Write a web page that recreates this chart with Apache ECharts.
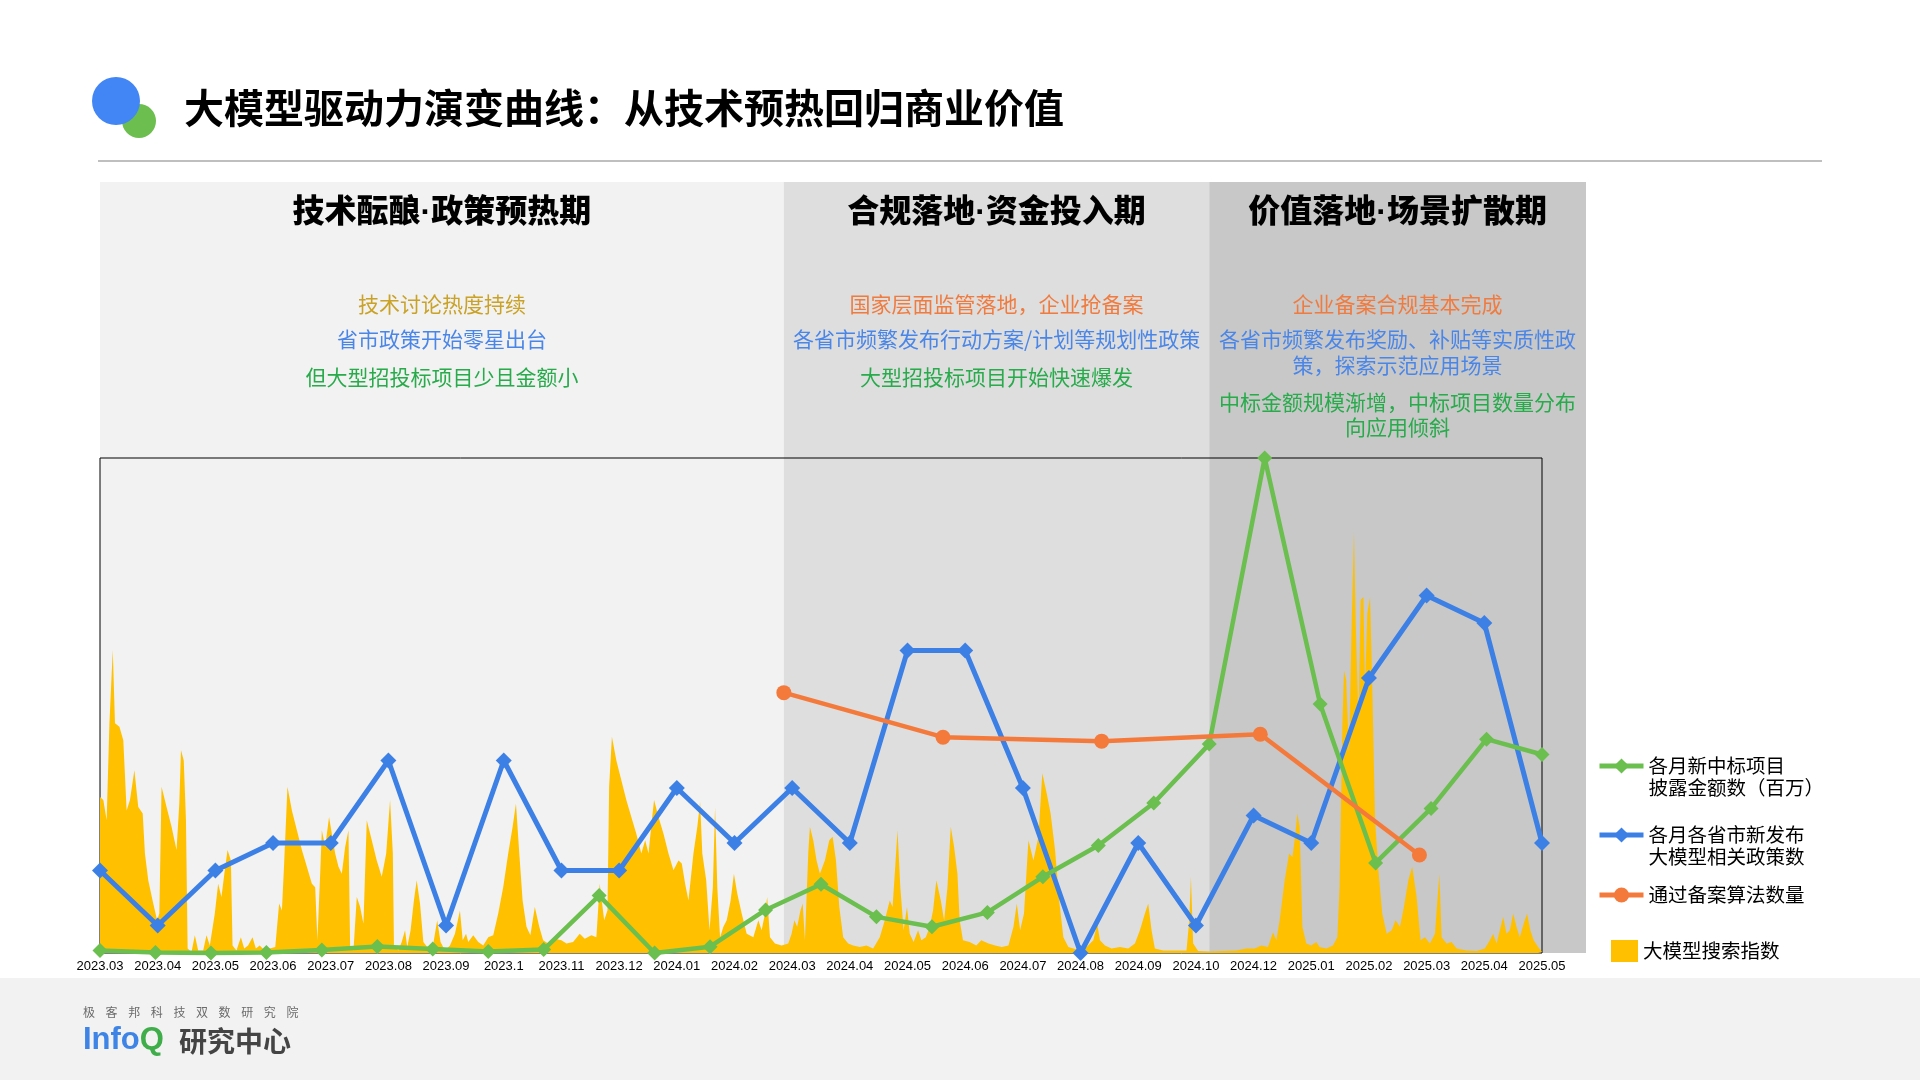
<!DOCTYPE html>
<html>
<head>
<meta charset="utf-8">
<script src="https://cdn.jsdelivr.net/npm/echarts@6/dist/echarts.min.js"></script>
<style>
html,body{margin:0;padding:0;background:#ffffff;}
#c{width:1920px;height:1080px;}
</style>
</head>
<body>
<div id="c"></div>
<script>
// ---------------- DATA ----------------
const categories = ['2023.03','2023.04','2023.05','2023.06','2023.07','2023.08','2023.09','2023.1','2023.11','2023.12',
  '2024.01','2024.02','2024.03','2024.04','2024.05','2024.06','2024.07','2024.08','2024.09','2024.10','2024.12',
  '2025.01','2025.02','2025.03','2025.04','2025.05'];

// 各月各省市新发布大模型相关政策数 (one per category label)
const policyCounts = [3,1,3,4,4,7,1,7,3,3,6,4,6,4,11,11,6,0,4,1,5,4,10,13,12,4];

// 各月新中标项目披露金额数（百万） — 27 months, 2023.03 … 2025.05 (month index 0…26)
const bidAmounts = [15,3,0,3,18,39,24,9,21,348,0,38,261,417,219,159,246,462,651,909,1266,3000,1509,546,876,1296,1203];

// 通过备案算法数量 — batch release positions (month index) and counts
const filingPos = [12.33,15.2,18.06,20.92,23.79];
const filingCounts = [263,218,214,221,99];

// 大模型搜索指数 — sample positions (month index) and index values
const searchPos = [0.00,0.06,0.12,0.17,0.23,0.27,0.35,0.42,0.48,0.54,0.62,0.69,0.77,0.81,0.87,0.96,1.03,1.07,1.11,1.20,1.29,1.38,1.43,1.46,1.51,1.55,1.58,1.65,1.71,1.77,1.86,1.92,1.98,2.07,2.13,2.19,2.25,2.30,2.36,2.39,2.46,2.54,2.60,2.67,2.75,2.81,2.88,2.97,3.06,3.16,3.23,3.28,3.32,3.38,3.46,3.55,3.64,3.73,3.82,3.88,3.92,3.97,4.00,4.06,4.13,4.18,4.24,4.30,4.36,4.42,4.48,4.51,4.57,4.63,4.69,4.75,4.81,4.90,4.99,5.08,5.16,5.23,5.28,5.30,5.38,5.44,5.50,5.54,5.60,5.66,5.71,5.77,5.83,5.92,6.01,6.08,6.14,6.22,6.31,6.40,
  6.49,6.54,6.60,6.64,6.73,6.82,6.91,7.00,7.09,7.18,7.27,7.36,7.44,7.50,7.56,7.62,7.69,7.76,7.84,7.92,7.99,8.08,8.20,8.32,8.41,8.53,8.65,8.74,8.86,8.95,9.01,9.09,9.15,9.18,9.23,9.31,9.40,9.49,9.58,9.67,9.76,9.83,9.89,9.95,9.99,10.07,10.16,10.25,10.34,10.43,10.49,10.55,10.61,10.70,10.77,10.82,10.86,10.93,10.99,11.05,11.09,11.13,11.18,11.24,11.30,11.37,11.43,11.49,11.57,11.66,11.78,11.87,11.93,11.99,12.03,12.08,12.17,12.29,12.41,12.47,12.52,12.57,12.63,12.67,12.71,12.77,12.80,12.86,12.92,
  12.98,13.07,13.15,13.21,13.27,13.33,13.40,13.49,13.58,13.70,13.82,13.94,14.06,14.15,14.24,14.29,14.33,14.38,14.43,14.49,14.55,14.60,14.67,14.75,14.81,14.89,14.96,15.02,15.08,15.16,15.22,15.28,15.34,15.40,15.46,15.50,15.56,15.68,15.80,15.89,16.02,16.14,16.26,16.38,16.47,16.53,16.59,16.66,16.74,16.83,16.92,16.99,17.07,17.14,17.22,17.30,17.37,17.46,17.55,17.67,17.79,17.91,17.98,18.03,18.12,18.24,18.39,18.54,18.66,18.75,18.84,18.90,18.96,19.02,19.17,19.32,
  19.47,19.59,19.64,19.67,19.71,19.80,20.01,20.25,20.49,20.67,20.82,20.94,21.06,21.15,21.21,21.27,21.36,21.44,21.50,21.54,21.59,21.63,21.68,21.75,21.84,21.93,21.99,22.11,22.23,22.31,22.35,22.40,22.43,22.47,22.52,22.57,22.61,22.64,22.69,22.73,22.78,22.81,22.85,22.90,22.94,22.99,23.05,23.12,23.20,23.29,23.36,23.44,23.51,23.59,23.66,23.74,23.81,23.89,23.98,24.07,24.11,24.15,24.19,24.28,24.37,24.46,24.64,24.82,24.97,25.06,25.12,25.18,25.24,25.30,25.36,25.42,25.48,25.54,25.60,25.67,25.73,25.79,25.85,25.93,26.00];
const searchIdx = [31.5,30.9,26.8,46.4,61.2,46.4,45.7,43.0,28.8,30.9,36.9,29.5,28.2,20.1,14.7,10.0,6.6,8.0,33.6,29.5,25.5,20.8,30.2,41.0,38.9,26.8,0.9,0.2,3.6,0.5,0.5,3.6,1.5,8.0,14.0,11.3,16.7,20.8,18.7,1.5,0.5,3.2,0.9,1.5,3.2,0.9,1.5,0.5,0.9,1.2,10.0,8.6,18.1,33.6,28.8,24.8,20.8,17.4,14.0,13.3,2.6,16.0,24.8,21.4,27.5,24.1,20.1,17.4,16.0,21.4,24.8,1.2,0.5,11.3,9.3,5.9,26.8,22.8,18.7,15.4,20.1,30.9,20.1,1.5,0.5,2.2,4.6,1.2,4.6,10.6,14.7,10.0,2.2,0.9,1.9,6.6,2.2,0.5,1.5,3.9,
  8.6,2.6,3.9,2.2,3.6,2.2,1.5,3.2,3.6,8.0,13.3,20.1,25.5,30.2,20.1,10.6,5.3,3.6,9.3,5.3,2.6,1.9,2.9,2.6,1.9,2.2,3.9,2.9,3.6,3.2,14.0,6.6,8.6,33.6,43.7,38.9,34.9,30.9,27.5,24.1,20.1,22.8,20.1,26.8,30.9,27.5,24.1,20.1,16.7,18.7,18.1,14.0,10.6,20.1,25.5,30.5,20.1,14.7,4.6,13.3,29.5,13.3,3.2,5.3,6.6,10.6,16.0,12.0,8.0,3.9,3.2,6.6,4.6,8.0,11.3,3.2,1.9,1.5,1.9,3.9,6.6,5.3,8.6,10.0,2.6,20.1,25.5,22.8,18.7,
  16.0,18.7,22.8,23.5,18.7,9.3,3.2,1.9,1.5,1.2,1.5,0.9,3.2,6.6,10.6,9.3,16.0,24.8,13.3,4.6,9.3,3.9,2.2,4.6,2.6,3.2,5.3,8.6,14.7,10.6,6.6,13.3,25.5,21.4,16.0,6.6,2.6,2.2,1.5,2.6,1.9,1.5,1.2,1.5,5.3,10.0,4.6,8.0,22.8,18.7,23.5,36.3,32.2,28.2,20.8,10.0,3.2,1.2,0.9,0.5,1.2,2.6,5.9,2.6,1.5,0.9,1.2,0.9,1.9,4.6,8.0,10.0,4.6,0.9,0.5,0.5,
  0.5,0.5,6.6,15.4,1.9,0.4,0.3,0.4,0.5,0.9,0.9,1.5,1.2,4.2,2.6,6.6,14.7,20.1,19.4,22.8,28.2,25.5,5.3,1.9,1.5,2.2,1.2,0.9,1.5,3.2,13.3,45.7,57.1,55.1,40.3,67.3,85.0,67.3,47.0,71.3,71.9,53.8,68.6,71.9,53.8,26.8,16.7,8.0,3.9,4.6,6.6,5.3,9.3,14.7,17.4,11.3,2.6,3.2,1.9,3.9,10.0,16.0,3.2,1.9,2.2,0.9,0.5,0.4,0.9,2.6,3.9,1.9,4.6,7.3,3.9,4.6,8.0,5.3,3.2,5.9,8.0,4.6,2.6,1.2,0.2];

// phase boundaries in month index (start of phase 1, 2, 3)
const phaseStart = [0, 12.33, 20.0];
const phaseTitles = ['技术酝酿·政策预热期','合规落地·资金投入期','价值落地·场景扩散期'];

// ---------------- NAMES / STYLE ----------------
const NAME_BID = '各月新中标项目披露金额数（百万）';
const NAME_POLICY = '各月各省市新发布大模型相关政策数';
const NAME_FILING = '通过备案算法数量';
const NAME_SEARCH = '大模型搜索指数';
const legendText = {};
legendText[NAME_BID] = '\n各月新中标项目\n披露金额数（百万）';
legendText[NAME_POLICY] = '\n各月各省市新发布\n大模型相关政策数';
legendText[NAME_FILING] = NAME_FILING;
legendText[NAME_SEARCH] = NAME_SEARCH;

const CJK = '"Noto Sans CJK SC", "Noto Sans", sans-serif';
const LAT_CJK = '"Liberation Sans", "Noto Sans CJK SC", sans-serif';
const C_GREEN = '#6bbf4e', C_BLUE = '#3c80e6', C_ORANGE = '#f47a3c', C_YELLOW = '#ffc000';
const T_GOLD = '#c9a227', T_BLUE = '#4a86e8', T_GREEN = '#27ab4b', T_ORANGE = '#f07b3f';

const chart = echarts.init(document.getElementById('c'), null, {renderer: 'canvas', width: 1920, height: 1080});

function legendItem(name, left, top, w, h, icon) {
  const l = {
    data: [name], left: left, top: top, orient: 'vertical', padding: 0,
    itemWidth: w, itemHeight: h, itemGap: 0, selectedMode: false,
    lineStyle: {width: 5},
    textStyle: {fontSize: 19.5, lineHeight: 22, color: '#000', fontFamily: CJK},
    formatter: (n) => legendText[n]
  };
  if (icon) l.icon = icon;
  return l;
}

const option = {
  animation: false,
  backgroundColor: '#ffffff',
  grid: {left: 100, top: 458, right: 378, bottom: 127, show: true, borderColor: '#000', borderWidth: 1, backgroundColor: 'transparent', z: 1},
  xAxis: [
    {type: 'category', data: categories, boundaryGap: false,
     axisLine: {show: false}, axisTick: {show: false}, splitLine: {show: false},
     axisLabel: {interval: 0, margin: 7, fontSize: 13, color: '#000', fontFamily: '"Liberation Sans", Arial, sans-serif'}},
    {type: 'value', min: 0, max: 26, show: false}
  ],
  yAxis: [
    {type: 'value', min: 0, max: 18, show: false},
    {type: 'value', min: 0, max: 3000, show: false},
    {type: 'value', min: 0, max: 500, show: false},
    {type: 'value', min: 0, max: 100, show: false}
  ],
  legend: [
    legendItem(NAME_BID, 1597, 733, 44, 19),
    legendItem(NAME_POLICY, 1597, 802, 44, 19),
    legendItem(NAME_FILING, 1597, 884, 44, 19),
    legendItem(NAME_SEARCH, 1611, 940, 27, 22, 'rect')
  ],
  series: [
    {name: NAME_SEARCH, type: 'line', xAxisIndex: 1, yAxisIndex: 3, z: 1,
     data: searchPos.map((p, i) => [p, searchIdx[i]]),
     symbol: 'none', smooth: false, clip: false,
     lineStyle: {width: 0, color: C_YELLOW}, itemStyle: {color: C_YELLOW},
     areaStyle: {color: C_YELLOW, opacity: 1}},
    {name: NAME_BID, type: 'line', xAxisIndex: 1, yAxisIndex: 1, z: 4,
     data: bidAmounts.map((v, i) => [i, v]),
     symbol: 'diamond', symbolSize: 15, clip: false,
     lineStyle: {width: 4.5, color: C_GREEN}, itemStyle: {color: C_GREEN}},
    {name: NAME_POLICY, type: 'line', xAxisIndex: 0, yAxisIndex: 0, z: 3,
     data: policyCounts,
     symbol: 'diamond', symbolSize: 16, clip: false,
     lineStyle: {width: 5, color: C_BLUE}, itemStyle: {color: C_BLUE}},
    {name: NAME_FILING, type: 'line', xAxisIndex: 1, yAxisIndex: 2, z: 5,
     data: filingPos.map((p, i) => [p, filingCounts[i]]),
     symbol: 'circle', symbolSize: 15, clip: false,
     lineStyle: {width: 4.5, color: C_ORANGE}, itemStyle: {color: C_ORANGE}}
  ]
};
chart.setOption(option);

// ---------------- DECORATION (layout from axis scale) ----------------
const gx = (m) => chart.convertToPixel({xAxisIndex: 1}, m);
const bounds = [gx(phaseStart[0]), gx(phaseStart[1]), gx(phaseStart[2]), 1586];
const phaseFill = ['#f2f2f2', '#dedede', '#c8c8c8'];
const PH_TOP = 182, PH_BOTTOM = 953;

const g = [];
// phase backgrounds
for (let i = 0; i < 3; i++) {
  g.push({type: 'rect', silent: true, z: -10,
    shape: {x: bounds[i], y: PH_TOP, width: bounds[i + 1] - bounds[i], height: PH_BOTTOM - PH_TOP},
    style: {fill: phaseFill[i]}});
}
const centers = [0, 1, 2].map(i => (bounds[i] + bounds[i + 1]) / 2);
// phase titles
for (let i = 0; i < 3; i++) {
  g.push({type: 'text', silent: true, z: 5, x: centers[i], y: 213,
    style: {text: phaseTitles[i], font: '900 32px ' + LAT_CJK, fill: '#000', align: 'center', verticalAlign: 'middle'}});
}
// phase notes
const notes = [
  [0, '技术讨论热度持续', T_GOLD, 304],
  [0, '省市政策开始零星出台', T_BLUE, 339],
  [0, '但大型招投标项目少且金额小', T_GREEN, 377],
  [1, '国家层面监管落地，企业抢备案', T_ORANGE, 304],
  [1, '各省市频繁发布行动方案/计划等规划性政策', T_BLUE, 339],
  [1, '大型招投标项目开始快速爆发', T_GREEN, 377],
  [2, '企业备案合规基本完成', T_ORANGE, 304],
  [2, '各省市频繁发布奖励、补贴等实质性政', T_BLUE, 339],
  [2, '策，探索示范应用场景', T_BLUE, 365],
  [2, '中标金额规模渐增，中标项目数量分布', T_GREEN, 402],
  [2, '向应用倾斜', T_GREEN, 427]
];
notes.forEach(n => {
  g.push({type: 'text', silent: true, z: 5, x: centers[n[0]], y: n[3],
    style: {text: n[1], font: '21px ' + CJK, fill: n[2], align: 'center', verticalAlign: 'middle'}});
});
// header
g.push({type: 'circle', silent: true, z: 5, shape: {cx: 139, cy: 121, r: 17}, style: {fill: '#6cbf4f'}});
g.push({type: 'circle', silent: true, z: 6, shape: {cx: 116, cy: 101, r: 24}, style: {fill: '#4285f4'}});
g.push({type: 'text', silent: true, z: 6, x: 184, y: 108,
  style: {text: '大模型驱动力演变曲线：从技术预热回归商业价值', font: 'bold 40px ' + CJK, fill: '#000', align: 'left', verticalAlign: 'middle'}});
g.push({type: 'line', silent: true, z: 5, shape: {x1: 98, y1: 161, x2: 1822, y2: 161}, style: {stroke: '#bfbfbf', lineWidth: 2}});
// footer
g.push({type: 'rect', silent: true, z: -10, shape: {x: 0, y: 978, width: 1920, height: 102}, style: {fill: '#f2f2f2'}});
const footSmall = '极客邦科技双数研究院';
for (let i = 0; i < footSmall.length; i++) {
  g.push({type: 'text', silent: true, z: 5, x: 89 + i * 22.6, y: 1012,
    style: {text: footSmall[i], font: '12px ' + CJK, fill: '#6b6b6b', align: 'center', verticalAlign: 'middle'}});
}
g.push({type: 'text', silent: true, z: 5, x: 83, y: 1040,
  style: {text: '{a|Info}{b|Q}', verticalAlign: 'middle', align: 'left',
    rich: {a: {font: 'bold 31px "Liberation Sans", Arial, sans-serif', fill: '#3d84e6'},
           b: {font: 'bold 31px "Liberation Sans", Arial, sans-serif', fill: '#3fae4a'}}}});
g.push({type: 'text', silent: true, z: 5, x: 179, y: 1041,
  style: {text: '研究中心', font: 'bold 28px ' + CJK, fill: '#444', align: 'left', verticalAlign: 'middle'}});

chart.setOption({graphic: {elements: g}});
</script>
</body>
</html>
